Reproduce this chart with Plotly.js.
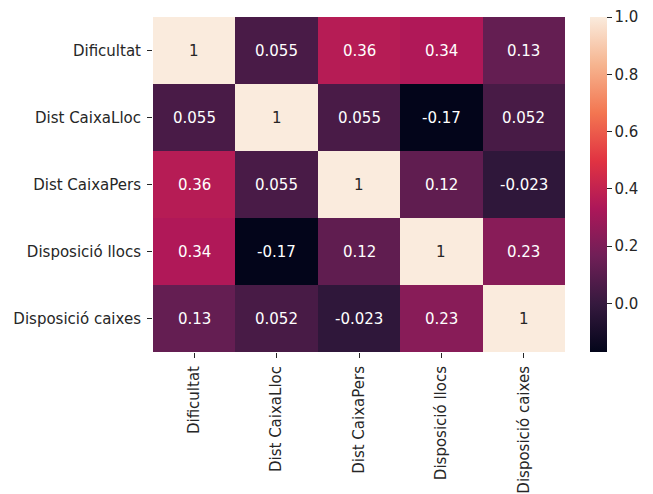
<!DOCTYPE html>
<html>
<head>
<meta charset="utf-8">
<script src="https://cdn.plot.ly/plotly-3.0.1.min.js"></script>
<style>
  html, body { margin: 0; padding: 0; background: #ffffff; }
  #chart { width: 653px; height: 494px; }
</style>
</head>
<body>
<div id="chart"></div>
<script>
// Correlation matrix between the survey variables
const variables = ["Dificultat", "Dist CaixaLloc", "Dist CaixaPers", "Disposició llocs", "Disposició caixes"];

const rowDificultat      = [1,     0.055, 0.36,   0.34,  0.13];
const rowDistCaixaLloc   = [0.055, 1,     0.055, -0.17,  0.052];
const rowDistCaixaPers   = [0.36,  0.055, 1,      0.12, -0.023];
const rowDisposicioLlocs = [0.34, -0.17,  0.12,   1,     0.23];
const rowDisposicioCaixes= [0.13,  0.052, -0.023, 0.23,  1];

const corr = [rowDificultat, rowDistCaixaLloc, rowDistCaixaPers, rowDisposicioLlocs, rowDisposicioCaixes];

const colorbarTicks = [0.0, 0.2, 0.4, 0.6, 0.8, 1.0];

// "rocket" style sequential palette
const rocket = [
  [0.0,   "#03051a"],
  [0.143, "#35193e"],
  [0.286, "#701f57"],
  [0.429, "#ad1759"],
  [0.571, "#e13342"],
  [0.714, "#f37651"],
  [0.857, "#f6b48f"],
  [1.0,   "#faebdd"]
];

const zmin = Math.min(...corr.flat());
const zmax = Math.max(...corr.flat());

const font = "DejaVu Sans, sans-serif";
const fs = 15;
const ink = "#262626";

const trace = {
  type: "heatmap",
  z: corr,
  x: variables,
  y: variables,
  zmin: zmin,
  zmax: zmax,
  colorscale: rocket,
  hoverinfo: "none",
  colorbar: {
    x: 1.0607, xanchor: "left", xpad: 0,
    y: 0, yanchor: "bottom", ypad: 0,
    len: 1, lenmode: "fraction",
    thickness: 17,
    outlinewidth: 0,
    tickvals: colorbarTicks,
    ticktext: colorbarTicks.map(v => v.toFixed(1)),
    ticks: "outside", ticklen: 5, tickwidth: 1, tickcolor: ink,
    ticklabelstandoff: 1,
    tickfont: { family: font, size: fs, color: ink }
  }
};

// Cell value labels: light text on dark cells, dark text on light cells
const annotations = [];
corr.forEach((row, i) => {
  row.forEach((v, j) => {
    const t = (v - zmin) / (zmax - zmin);
    annotations.push({
      x: variables[j], y: variables[i], xref: "x", yref: "y",
      text: String(v), showarrow: false,
      font: { family: font, size: fs, color: t > 0.75 ? ink : "#ffffff" }
    });
  });
});

const layout = {
  width: 653, height: 494,
  margin: { l: 153, r: 88, t: 17, b: 142, pad: 0 },
  paper_bgcolor: "#ffffff", plot_bgcolor: "#ffffff",
  font: { family: font, size: fs, color: ink },
  xaxis: {
    tickangle: -90, ticks: "outside", ticklen: 5, tickcolor: ink,
    ticklabelstandoff: 2,
    showgrid: false, zeroline: false, showline: false,
    tickfont: { family: font, size: fs, color: ink }
  },
  yaxis: {
    autorange: "reversed", ticks: "outside", ticklen: 5, tickcolor: ink,
    ticklabelstandoff: 3,
    showgrid: false, zeroline: false, showline: false,
    tickfont: { family: font, size: fs, color: ink }
  },
  annotations: annotations
};

Plotly.newPlot("chart", [trace], layout, { displayModeBar: false, staticPlot: true });
</script>
</body>
</html>
